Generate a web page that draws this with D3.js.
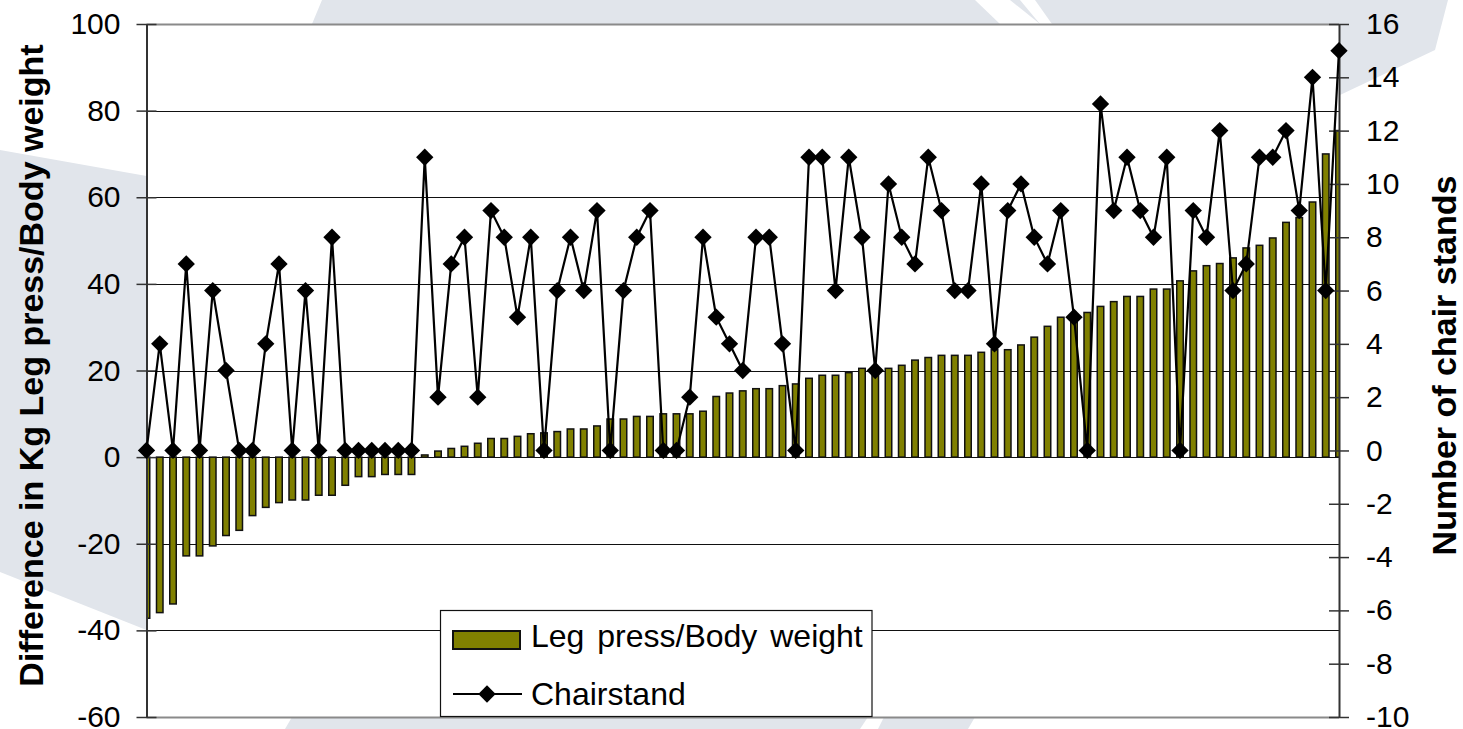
<!DOCTYPE html>
<html>
<head>
<meta charset="utf-8">
<script src="https://cdn.jsdelivr.net/npm/d3@7"></script>
<style>
  html, body { margin: 0; padding: 0; background: #fff; }
  svg { display: block; font-family: Arial, "Liberation Sans", sans-serif; }
</style>
</head>
<body>
<svg id="chart" width="1463" height="729"></svg>
<script>
// ---- data ----
const legPress = [
  -37.2, -35.9, -33.9, -22.8, -22.8, -20.5, -18.1, -16.9, -13.5, -11.6,
  -10.5, -9.9, -9.9, -8.8, -8.8, -6.5, -4.5, -4.5, -4.0, -4.0,
  -4.0, 0.5, 1.4, 2.0, 2.5, 3.2, 4.3, 4.3, 4.8, 5.4,
  5.6, 5.9, 6.5, 6.5, 7.2, 8.8, 8.8, 9.4, 9.4, 10.0,
  10.0, 10.0, 10.6, 14.0, 14.8, 15.3, 15.8, 15.8, 16.5, 16.9,
  18.2, 18.9, 18.9, 19.5, 20.5, 20.5, 20.5, 21.2, 22.4, 23.0,
  23.5, 23.5, 23.5, 24.2, 24.8, 24.8, 25.9, 27.7, 30.2, 32.3,
  32.7, 33.4, 34.8, 35.9, 37.1, 37.1, 38.8, 38.8, 40.7, 43.0,
  44.2, 44.7, 46.0, 48.3, 48.9, 50.6, 54.2, 55.3, 58.9, 70.0,
  75.4
];
const chairStands = [
  0, 4, 0, 7, 0, 6, 3, 0, 0, 4,
  7, 0, 6, 0, 8, 0, 0, 0, 0, 0,
  0, 11, 2, 7, 8, 2, 9, 8, 5, 8,
  0, 6, 8, 6, 9, 0, 6, 8, 9, 0,
  0, 2, 8, 5, 4, 3, 8, 8, 4, 0,
  11, 11, 6, 11, 8, 3, 10, 8, 7, 11,
  9, 6, 6, 10, 4, 9, 10, 8, 7, 9,
  5, 0, 13, 9, 11, 9, 8, 11, 0, 9,
  8, 12, 6, 7, 11, 11, 12, 9, 14, 6,
  15
];
const categories = d3.range(1, legPress.length + 1);
const leftTicks = [-60, -40, -20, 0, 20, 40, 60, 80, 100];
const rightTicks = [-10, -8, -6, -4, -2, 0, 2, 4, 6, 8, 10, 12, 14, 16];
const seriesNames = ["Leg press/Body weight", "Chairstand"];
const leftTitle = "Difference in Kg Leg press/Body weight";
const rightTitle = "Number of chair stands";

// ---- layout ----
const svg = d3.select("#chart");
const P = { left: 146.5, right: 1339, top: 24, bottom: 717 };
const olive = "#808000";
const bgGray = "#e1e5eb";
const fmt = d => String(d);   // plain hyphen-minus like the reference

// decorative background shapes
const bg = svg.append("g");
const shapes = [
  [[322,0],[1448,0],[1435,50],[1340,95],[1340,24],[312,24]],
  [[0,150],[146.5,176],[146.5,630],[0,572]],
  [[292,717],[975,717],[968,729],[285,729]]
];
bg.selectAll("polygon.s").data(shapes).join("polygon")
  .attr("points", d => d.map(p => p.join(",")).join(" "))
  .attr("fill", bgGray);
const whites = [
  [[975,0],[1010,0],[1040,24],[1000,24]],
  [[1020,0],[1035,0],[1052,24],[1040,24]],
  [[868,717],[884,717],[878,729],[860,729]]
];
bg.selectAll("polygon.w").data(whites).join("polygon")
  .attr("points", d => d.map(p => p.join(",")).join(" "))
  .attr("fill", "#fff");

// plot area
svg.append("rect").attr("x", P.left).attr("y", P.top)
  .attr("width", P.right - P.left).attr("height", P.bottom - P.top)
  .attr("fill", "#fff");

const x = d3.scalePoint().domain(categories).range([P.left, P.right]);
const yL = d3.scaleLinear().domain([-60, 100]).range([P.bottom, P.top]);
const yR = d3.scaleLinear().domain([-10, 16]).range([P.bottom, P.top]);

// gridlines
svg.append("g").selectAll("line").data(leftTicks).join("line")
  .attr("x1", P.left).attr("x2", P.right)
  .attr("y1", d => Math.round(yL(d)) + 0.5).attr("y2", d => Math.round(yL(d)) + 0.5)
  .attr("stroke", d => (d === 100 || d === -60) ? "#8a8a8a" : "#111")
  .attr("stroke-width", d => (d === 100 || d === -60) ? 2 : 1.1);

// bars
svg.append("clipPath").attr("id", "clip").append("rect")
  .attr("x", P.left).attr("y", P.top)
  .attr("width", P.right - P.left).attr("height", P.bottom - P.top);
const bw = 6.5;
svg.append("g").attr("clip-path", "url(#clip)")
  .selectAll("rect").data(legPress).join("rect")
  .attr("x", (d, i) => x(categories[i]) - bw / 2)
  .attr("width", bw)
  .attr("y", d => yL(Math.max(0, d)))
  .attr("height", d => Math.abs(yL(d) - yL(0)))
  .attr("fill", olive).attr("stroke", "#111").attr("stroke-width", 1.5);

// axes
const axL = svg.append("g").attr("transform", `translate(${P.left},0)`)
  .call(d3.axisLeft(yL).tickValues(leftTicks).tickSize(10).tickSizeOuter(0).tickPadding(16).tickFormat(fmt));
axL.selectAll(".tick line").attr("x1", 10).attr("stroke", "#333").attr("stroke-width", 1.5);
axL.select(".domain").attr("stroke", "#333").attr("stroke-width", 2);
axL.selectAll(".tick text").attr("font-size", 30).attr("fill", "#000")
  .attr("font-family", "Arial, 'Liberation Sans', sans-serif");

const axR = svg.append("g").attr("transform", `translate(${P.right},0)`)
  .call(d3.axisRight(yR).tickValues(rightTicks).tickSize(10).tickSizeOuter(0).tickPadding(17).tickFormat(fmt));
axR.selectAll(".tick line").attr("x1", -10).attr("stroke", "#333").attr("stroke-width", 1.5);
axR.select(".domain").attr("stroke", "#333").attr("stroke-width", 2);
axR.selectAll(".tick text").attr("font-size", 30).attr("fill", "#000")
  .attr("font-family", "Arial, 'Liberation Sans', sans-serif");

// line + markers
const line = d3.line().x((d, i) => x(categories[i])).y(d => yR(d));
svg.append("path").datum(chairStands).attr("d", line)
  .attr("fill", "none").attr("stroke", "#000").attr("stroke-width", 2.2)
  .attr("stroke-linejoin", "miter");
svg.append("g").selectAll("path").data(chairStands).join("path")
  .attr("transform", (d, i) => `translate(${x(categories[i])},${yR(d)}) rotate(45)`)
  .attr("d", d3.symbol().type(d3.symbolSquare).size(150))
  .attr("fill", "#000");

// axis titles
svg.append("text")
  .attr("transform", `translate(43,${(P.top + P.bottom) / 2 - 5}) rotate(-90)`)
  .attr("text-anchor", "middle").attr("font-size", 34).attr("font-weight", "bold")
  .text(leftTitle);
svg.append("text")
  .attr("transform", `translate(1456,${(P.top + P.bottom) / 2 - 5}) rotate(-90)`)
  .attr("text-anchor", "middle").attr("font-size", 34).attr("font-weight", "bold")
  .text(rightTitle);

// legend
const lg = svg.append("g");
lg.append("rect").attr("x", 440.5).attr("y", 610.5).attr("width", 431.5).attr("height", 106)
  .attr("fill", "#fff").attr("stroke", "#111").attr("stroke-width", 1.2);
lg.append("rect").attr("x", 453).attr("y", 631).attr("width", 67).attr("height", 18)
  .attr("fill", olive).attr("stroke", "#111").attr("stroke-width", 2);
lg.append("text").attr("x", 531).attr("y", 647).attr("font-size", 32)
  .attr("word-spacing", 4).text(seriesNames[0]);
lg.append("line").attr("x1", 453).attr("x2", 522).attr("y1", 694).attr("y2", 694)
  .attr("stroke", "#000").attr("stroke-width", 2.2);
lg.append("path").attr("transform", "translate(487,694) rotate(45)")
  .attr("d", d3.symbol().type(d3.symbolSquare).size(150)).attr("fill", "#000");
lg.append("text").attr("x", 531).attr("y", 705).attr("font-size", 32).text(seriesNames[1]);
</script>
</body>
</html>
